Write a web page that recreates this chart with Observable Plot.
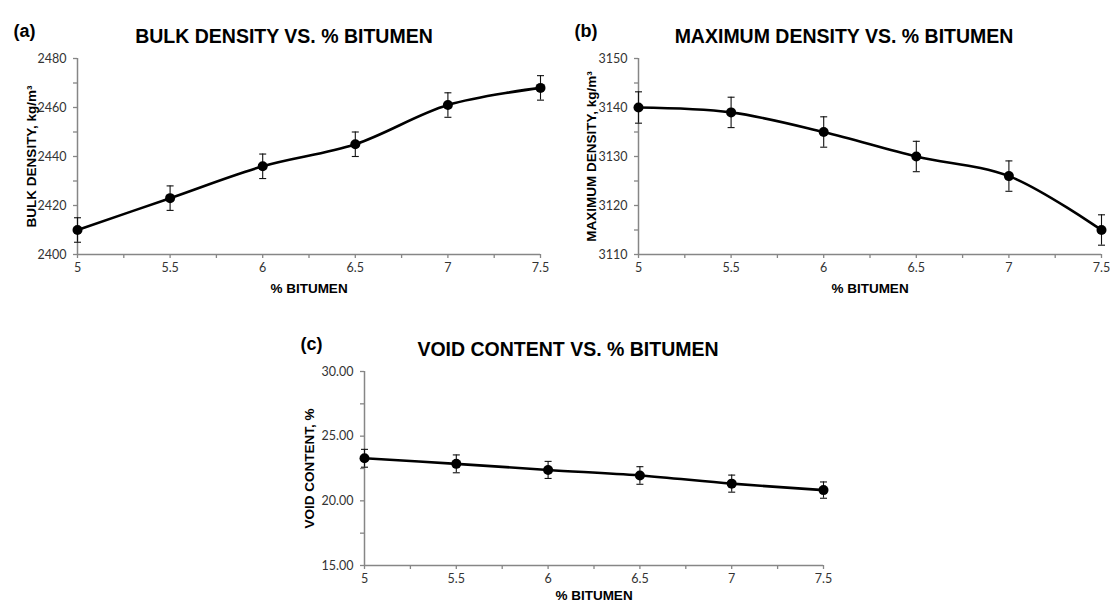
<!DOCTYPE html>
<html>
<head>
<meta charset="utf-8">
<script src="https://cdn.jsdelivr.net/npm/d3@7"></script>
<script src="https://cdn.jsdelivr.net/npm/@observablehq/plot@0.6"></script>
<style>
  html, body { margin: 0; padding: 0; background: #fff; }
  #wrap { position: relative; width: 1110px; height: 608px; background: #fff; overflow: hidden; }
  #wrap svg { position: absolute; overflow: visible; background: transparent; }
</style>
</head>
<body>
<div id="wrap"></div>
<script>
// ---- data ----
const bitumen = [5, 5.5, 6, 6.5, 7, 7.5];

const bulkDensity = [2410, 2423, 2436, 2445, 2461, 2468];
const bulkErr     = [5, 5, 5, 5, 5, 5];

const maxDensity = [3140, 3139, 3135, 3130, 3126, 3115];
const maxErr     = [3.2, 3.1, 3.1, 3.1, 3.1, 3.1];

const voidContent = [23.29, 22.86, 22.39, 21.96, 21.33, 20.83];
const voidErr     = [0.69, 0.69, 0.66, 0.68, 0.66, 0.63];

// tick labels
const xTickLabels = [5, 5.5, 6, 6.5, 7, 7.5];
const bulkTickLabels = [2400, 2420, 2440, 2460, 2480];
const maxTickLabels = [3110, 3120, 3130, 3140, 3150];
const voidTickLabels = [15, 20, 25, 30];

// ---- helpers ----
const AXIS_GRAY = "#868686";
const TICK_FONT = "Lato, 'Open Sans', sans-serif";
const BOLD_FONT = "Arial, 'Liberation Sans', sans-serif";

const capSymbol = {
  draw(context, size) {
    const w = Math.sqrt(size / Math.PI);
    context.moveTo(-w, 0);
    context.lineTo(w, 0);
  }
};

function panel({left, top, width, height, mt, mb, ml, mr,
                values, errs, yDomain, yLabels, yMinorStep, yFormat,
                title, tag, yTitle, yTitleDx, titleDx, xTitleDy}) {
  const data = bitumen.map((x, i) => ({x, y: values[i], lo: values[i] - errs[i], hi: values[i] + errs[i]}));
  const xMinor = d3.range(5, 7.5 + 1e-9, 0.25);
  const labelSetX = new Set(xTickLabels.map(String));
  const yMinor = d3.range(yDomain[0], yDomain[1] + 1e-9, yMinorStep);
  const labelSetY = new Set(yLabels.map(v => yFormat(v)));

  const svg = Plot.plot({
    width, height,
    marginTop: mt, marginBottom: mb, marginLeft: ml, marginRight: mr,
    x: {domain: [5, 7.5]},
    y: {domain: yDomain},
    style: {background: "transparent", overflow: "visible"},
    marks: [
      Plot.axisX(xMinor, {
        tickSize: 4, tickPadding: 5, stroke: AXIS_GRAY, strokeWidth: 1.3,
        tickFormat: d => labelSetX.has(String(+d.toFixed(2))) ? String(+d.toFixed(2)) : "",
        fontFamily: TICK_FONT, fontSize: 12.5, fill: "#333", label: null
      }),
      Plot.axisY(yMinor, {
        tickSize: 4, tickPadding: 7, stroke: AXIS_GRAY, strokeWidth: 1.3,
        tickFormat: d => labelSetY.has(yFormat(d)) ? yFormat(d) : "",
        fontFamily: TICK_FONT, fontSize: 12.5, fill: "#333", label: null
      }),
      Plot.ruleX([5], {stroke: AXIS_GRAY, strokeWidth: 1.5}),
      Plot.ruleY([yDomain[0]], {stroke: AXIS_GRAY, strokeWidth: 1.5}),
      Plot.ruleX(data, {x: "x", y1: "lo", y2: "hi", stroke: "#111", strokeWidth: 1.1}),
      Plot.dot(data, {x: "x", y: "lo", symbol: capSymbol, r: 3.5, stroke: "#111", strokeWidth: 1.1, fill: "none"}),
      Plot.dot(data, {x: "x", y: "hi", symbol: capSymbol, r: 3.5, stroke: "#111", strokeWidth: 1.1, fill: "none"}),
      Plot.line(data, {x: "x", y: "y", curve: "catmull-rom", stroke: "#000", strokeWidth: 2.6}),
      Plot.dot(data, {x: "x", y: "y", r: 5, fill: "#000", stroke: "none"}),
      Plot.text([title], {frameAnchor: "top", textAnchor: "middle", dx: titleDx, dy: -29, fontSize: 19.5, fontWeight: "bold", fontFamily: BOLD_FONT, fill: "#000"}),
      Plot.text([tag], {frameAnchor: "top-left", textAnchor: "start", dx: -64, dy: -34, fontSize: 18, fontWeight: "bold", fontFamily: BOLD_FONT, fill: "#000"}),
      Plot.text(["% BITUMEN"], {frameAnchor: "bottom", textAnchor: "middle", dy: xTitleDy, fontSize: 13.5, fontWeight: "bold", fontFamily: BOLD_FONT, fill: "#000"}),
      Plot.text([yTitle], {frameAnchor: "left", textAnchor: "middle", rotate: -90, dx: yTitleDx, fontSize: 13.5, fontWeight: "bold", fontFamily: BOLD_FONT, fill: "#000"})
    ]
  });
  svg.style.left = left + "px";
  svg.style.top = top + "px";
  document.getElementById("wrap").appendChild(svg);
}

const intFmt = d => String(Math.round(d));

panel({
  left: 0, top: 0, width: 555, height: 305, mt: 58, mb: 51, ml: 77, mr: 15,
  values: bulkDensity, errs: bulkErr, yDomain: [2400, 2480], yLabels: bulkTickLabels,
  yMinorStep: 10, yFormat: intFmt,
  title: "BULK DENSITY VS. % BITUMEN", tag: "(a)", yTitle: "BULK DENSITY, kg/m³",
  yTitleDx: -46, titleDx: -25, xTitleDy: 38
});

panel({
  left: 555, top: 0, width: 555, height: 305, mt: 58, mb: 51, ml: 83, mr: 9,
  values: maxDensity, errs: maxErr, yDomain: [3110, 3150], yLabels: maxTickLabels,
  yMinorStep: 5, yFormat: intFmt,
  title: "MAXIMUM DENSITY VS. % BITUMEN", tag: "(b)", yTitle: "MAXIMUM DENSITY, kg/m³",
  yTitleDx: -47, titleDx: -26, xTitleDy: 38
});

panel({
  left: 290, top: 310, width: 560, height: 298, mt: 61, mb: 43, ml: 74, mr: 27,
  values: voidContent, errs: voidErr, yDomain: [15, 30], yLabels: voidTickLabels,
  yMinorStep: 2.5, yFormat: d => d.toFixed(2),
  title: "VOID CONTENT VS. % BITUMEN", tag: "(c)", yTitle: "VOID CONTENT, %",
  yTitleDx: -55, titleDx: -26, xTitleDy: 34
});
</script>
</body>
</html>
